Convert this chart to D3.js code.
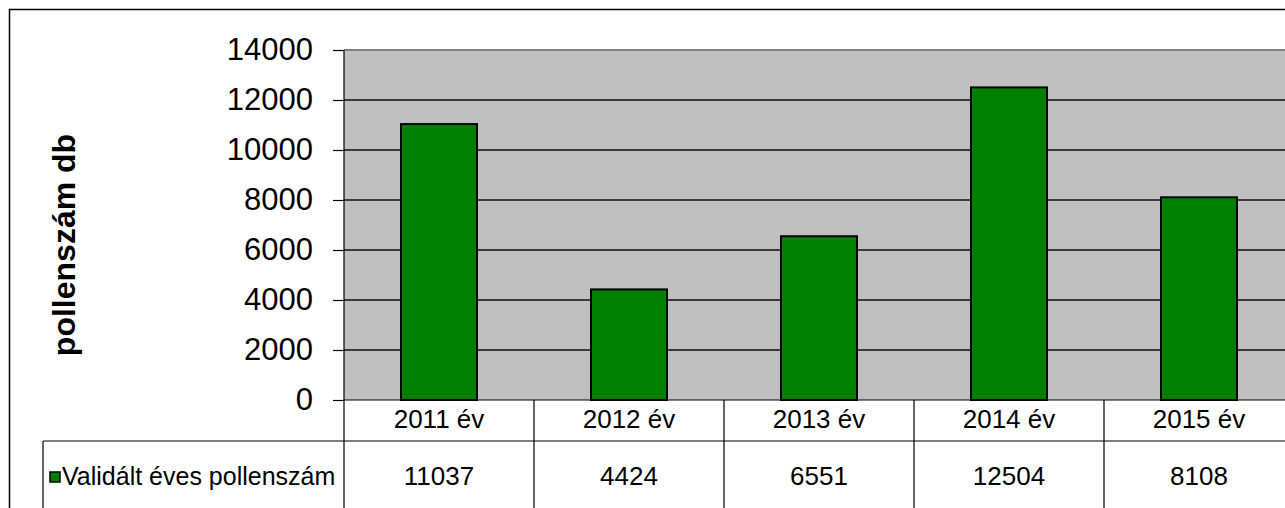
<!DOCTYPE html>
<html><head><meta charset="utf-8">
<script src="https://cdn.jsdelivr.net/npm/d3@7"></script>
<style>
html,body{margin:0;padding:0;background:#fff;overflow:hidden;}
text{font-family:"Liberation Sans",Arial,sans-serif;fill:#000;}
</style></head>
<body><svg id="c" width="1285" height="508"></svg>
<script>
const categories = ["2011 év","2012 év","2013 év","2014 év","2015 év"];
const values = [11037, 4424, 6551, 12504, 8108];
const yTicks = [0,2000,4000,6000,8000,10000,12000,14000];
const seriesName = "Validált éves pollenszám";
const yTitle = "pollenszám db";

const svg = d3.select("#c");
const L = 344, R = 1294, T = 50, B = 400;
const x = d3.scaleBand().domain(categories).range([L, R]).paddingInner(0.6).paddingOuter(0.3);
const xc = d3.scaleBand().domain(categories).range([L, R]).padding(0);
const y = d3.scaleLinear().domain([0, 14000]).range([B, T]);

// outer border
svg.append("rect").attr("x",9.5).attr("y",9.5).attr("width",1400).attr("height",600)
  .attr("fill","none").attr("stroke","#000").attr("stroke-width",1.5);

// plot bg
svg.append("rect").attr("x",L).attr("y",T).attr("width",R-L).attr("height",B-T).attr("fill","#c0c0c0");
svg.append("line").attr("x1",L).attr("x2",R).attr("y1",T).attr("y2",T).attr("stroke","#808080").attr("stroke-width",2);

// gridlines
svg.append("g").selectAll("line").data(yTicks.filter(d=>d>0 && d<14000)).join("line")
  .attr("x1",L).attr("x2",R).attr("y1",d=>y(d)).attr("y2",d=>y(d))
  .attr("stroke","#111").attr("stroke-width",1.3);

// bars
svg.append("g").selectAll("rect").data(values).join("rect")
  .attr("x",(d,i)=>x(categories[i])).attr("width",x.bandwidth())
  .attr("y",d=>y(d)).attr("height",d=>B-y(d))
  .attr("fill","#008000").attr("stroke","#000").attr("stroke-width",2);

// y axis
const ya = svg.append("g").attr("transform",`translate(${L},0)`)
  .call(d3.axisLeft(y).tickValues(yTicks).tickSize(11).tickPadding(20).tickFormat(d3.format("d")));
ya.select(".domain").attr("stroke","#000").attr("stroke-width",1.2).attr("d",`M0,${T}V${B}`);
ya.selectAll(".tick line").attr("stroke","#000").attr("stroke-width",1.2);
ya.selectAll(".tick text").attr("font-size",31).attr("font-family",'"Liberation Sans",Arial,sans-serif').attr("fill","#000");

// x axis line
svg.append("line").attr("x1",L).attr("x2",1285).attr("y1",B).attr("y2",B).attr("stroke","#000").attr("stroke-width",1.2);

// y title
svg.append("text").attr("transform","translate(75,245) rotate(-90)").attr("text-anchor","middle")
  .attr("font-size",32).attr("font-weight","bold").text(yTitle);

// data table
const rowY = 441;
svg.append("line").attr("x1",43).attr("x2",1285).attr("y1",rowY).attr("y2",rowY).attr("stroke","#000").attr("stroke-width",1.2);
svg.append("line").attr("x1",43).attr("x2",43).attr("y1",rowY).attr("y2",508).attr("stroke","#000").attr("stroke-width",1.2);
const bounds = categories.map(c=>xc(c)).concat([R]);
svg.append("g").selectAll("line").data(bounds).join("line")
  .attr("x1",d=>d).attr("x2",d=>d).attr("y1",B).attr("y2",508).attr("stroke","#000").attr("stroke-width",1.2);

svg.append("g").selectAll("text").data(categories).join("text")
  .attr("x",d=>xc(d)+xc.bandwidth()/2).attr("y",428).attr("text-anchor","middle")
  .attr("font-size",26).text(d=>d);
svg.append("g").selectAll("text").data(values).join("text")
  .attr("x",(d,i)=>xc(categories[i])+xc.bandwidth()/2).attr("y",485).attr("text-anchor","middle")
  .attr("font-size",26).text(d=>d);

// legend key
svg.append("rect").attr("x",50).attr("y",472).attr("width",10).attr("height",10)
  .attr("fill","#008000").attr("stroke","#000").attr("stroke-width",1.5);
svg.append("text").attr("x",62).attr("y",485).attr("font-size",25).text(seriesName);
</script></body></html>
